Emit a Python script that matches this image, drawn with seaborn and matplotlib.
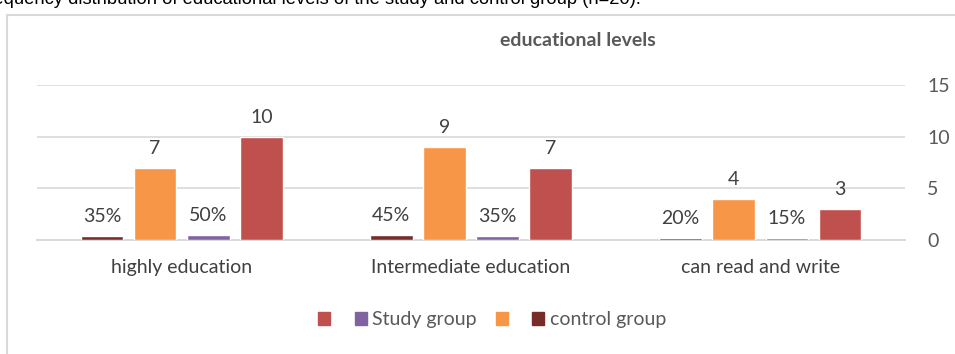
import matplotlib
matplotlib.use("Agg")
import matplotlib.pyplot as plt
import seaborn as sns
import pandas as pd
from matplotlib.patches import Patch, Rectangle

categories = ["highly education", "Intermediate education", "can read and write"]
series_names = ["control_pct", "control_n", "study_pct", "study_n"]
control_pct = [0.35, 0.45, 0.20]
control_n = [7, 9, 4]
study_pct = [0.50, 0.35, 0.15]
study_n = [10, 7, 3]
pct_labels_control = ["35%", "45%", "20%"]
pct_labels_study = ["50%", "35%", "15%"]
yticks = [0, 5, 10, 15]

colors = {"control_pct": "#772C2A", "control_n": "#F79646",
          "study_pct": "#8064A2", "study_n": "#C0504D"}

rows = []
for i, c in enumerate(categories):
    rows.append((c, "control_pct", control_pct[i], pct_labels_control[i]))
    rows.append((c, "control_n", control_n[i], str(control_n[i])))
    rows.append((c, "study_pct", study_pct[i], pct_labels_study[i]))
    rows.append((c, "study_n", study_n[i], str(study_n[i])))
df = pd.DataFrame(rows, columns=["category", "series", "value", "label"])

sns.set_style("white")
plt.rcParams["font.family"] = ["Lato", "DejaVu Sans"]

fig = plt.figure(figsize=(9.55, 3.54), dpi=100)
ax = fig.add_axes([37/955, 1-240/354, (905-37)/955, (240-85)/354])

sns.barplot(data=df, x="category", y="value", hue="series", order=categories,
            hue_order=series_names, palette=colors, width=0.735, gap=0.2,
            ax=ax, legend=False, saturation=1)
for p in ax.patches:
    p.set_zorder(3)

for container, s in zip(ax.containers, series_names):
    labs = df[df.series == s]["label"].tolist()
    ax.bar_label(container, labels=labs, padding=8, fontsize=14, color="#404040")

ax.set_ylim(0, 15)
ax.set_xlim(-0.5, 2.5)
ax.yaxis.tick_right()
ax.set_yticks(yticks)
ax.tick_params(axis="y", length=0, labelsize=14, labelcolor="#595959", pad=16)
ax.tick_params(axis="x", length=0, labelsize=14, labelcolor="#404040", pad=14)
ax.set_xlabel("")
ax.set_ylabel("")
ax.grid(axis="y", color="#D9D9D9", linewidth=1.2)
ax.set_axisbelow(True)
for sp in ["top", "right", "left"]:
    ax.spines[sp].set_visible(False)
ax.spines["bottom"].set_color("#D9D9D9")
ax.spines["bottom"].set_linewidth(1.4)
ax.spines["bottom"].set_zorder(1)

fig.text(578/955, 1-40/354, "educational levels", ha="center", va="center",
         fontsize=14, fontweight="bold", color="#595959")

fig.patches.append(Rectangle((7/955, -0.1), 1.2, 1-15/354+0.1, transform=fig.transFigure,
                             fill=False, edgecolor="#D9D9D9", linewidth=1.5, zorder=0))

fig.text(-24/955, 1+1/354, "Frequency distribution of educational levels of the study and control group (n=20).",
         ha="left", va="center", fontsize=13.2, color="#000000", family=["Liberation Sans"])

handles = [Patch(color=colors["study_n"]), Patch(color=colors["study_pct"]),
           Patch(color=colors["control_n"]), Patch(color=colors["control_pct"])]
labels = ["", "Study group", "", "control group"]
fig.legend(handles, labels, loc="center", bbox_to_anchor=(492/955, 1-320/354), ncol=4,
           frameon=False, fontsize=14, handlelength=0.62, handleheight=0.62,
           handletextpad=0.26, columnspacing=1.0, labelcolor="#595959")

fig.savefig("out.png", dpi=100)
